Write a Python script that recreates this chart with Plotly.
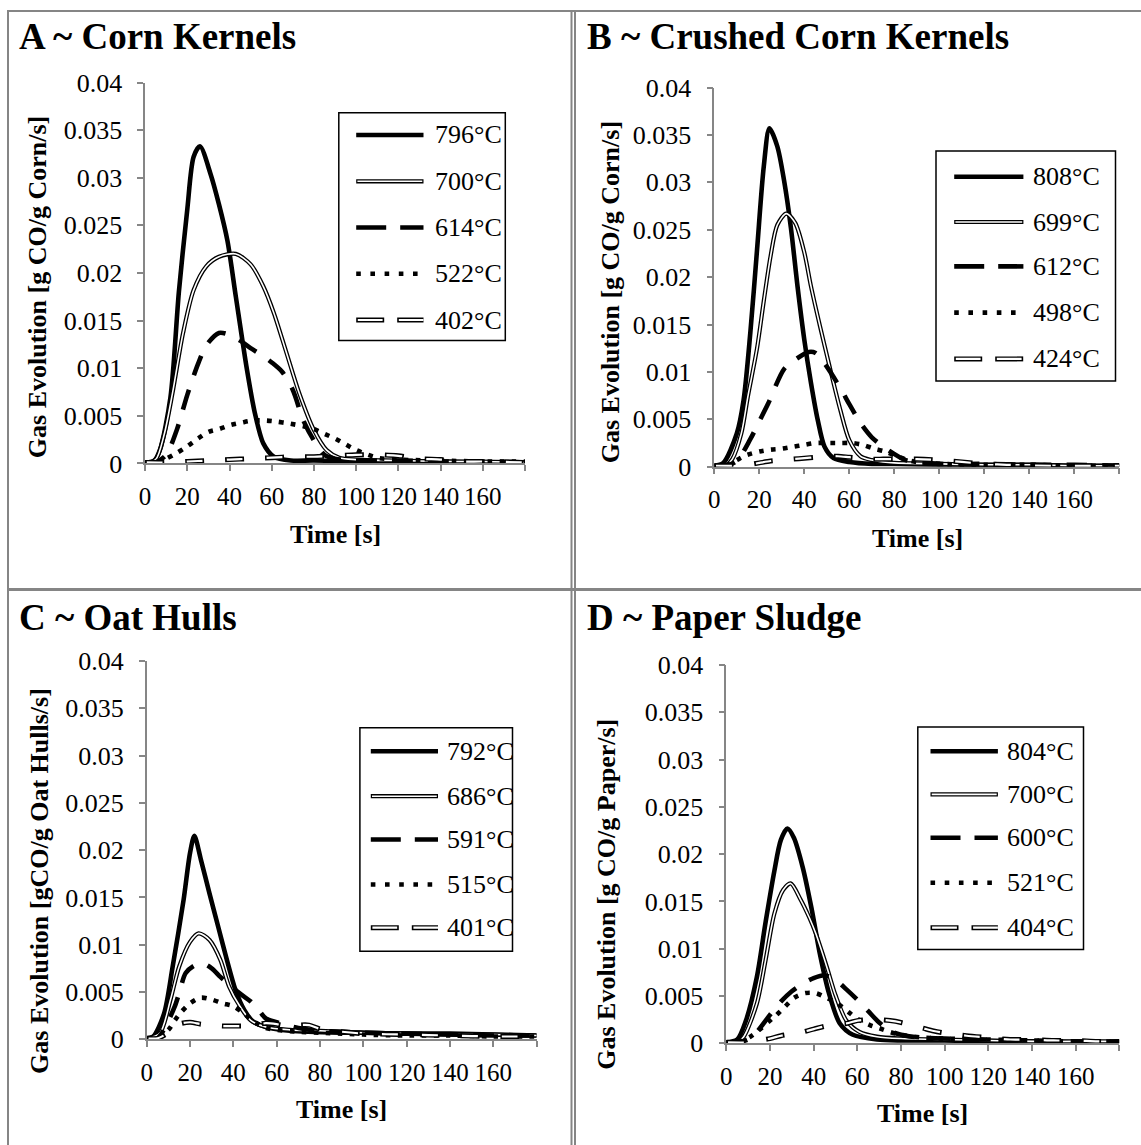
import plotly.graph_objects as go

W, H = 1141, 1145

# ---------------- data ----------------
TITLES = ["A ~ Corn Kernels", "B ~ Crushed Corn Kernels", "C ~ Oat Hulls", "D ~ Paper Sludge"]
Y_TITLES = ["Gas Evolution [g CO/g Corn/s]", "Gas Evolution [g CO/g Corn/s]",
            "Gas Evolution [gCO/g Oat Hulls/s]", "Gas Evolution [g CO/g Paper/s]"]
X_TITLE = "Time [s]"

A_LABELS = ["796°C", "700°C", "614°C", "522°C", "402°C"]
B_LABELS = ["808°C", "699°C", "612°C", "498°C", "424°C"]
C_LABELS = ["792°C", "686°C", "591°C", "515°C", "401°C"]
D_LABELS = ["804°C", "700°C", "600°C", "521°C", "404°C"]

X_TICKS = [0, 20, 40, 60, 80, 100, 120, 140, 160, 180]
X_TICKTEXT = ["0", "20", "40", "60", "80", "100", "120", "140", "160", ""]
Y_TICKS = [0, 0.005, 0.01, 0.015, 0.02, 0.025, 0.03, 0.035, 0.04]
Y_TICKTEXT = ["0", "0.005", "0.01", "0.015", "0.02", "0.025", "0.03", "0.035", "0.04"]

# Panel A - Corn Kernels
A_796_T = [0, 4, 7, 12, 16, 20, 23, 26, 31, 35, 39, 43, 48, 52, 56, 61, 69, 80, 100, 120, 140, 160, 180]
A_796_V = [0.0001, 0.0002, 0.0014, 0.0069, 0.018, 0.0267, 0.0322, 0.0333, 0.0304, 0.0272, 0.0234, 0.0175,
           0.0102, 0.0053, 0.0021, 0.0007, 0.0003, 0.0003, 0.0002, 0.0002, 0.0002, 0.0001, 0.0001]
A_700_T = [0, 5, 9, 13, 18, 23, 29, 35, 43, 50, 56, 61, 67, 73, 80, 86, 92, 100, 120, 140, 160, 180]
A_700_V = [0.0001, 0.0004, 0.003, 0.0074, 0.0137, 0.0182, 0.0207, 0.0217, 0.022, 0.0209, 0.0186, 0.0158,
           0.0116, 0.0074, 0.0035, 0.0014, 0.0006, 0.0004, 0.0003, 0.0002, 0.0002, 0.0001]
A_614_T = [0, 5, 10, 15, 20, 25, 29, 35, 40, 45, 50, 55, 60, 65, 70, 75, 80, 85, 90, 100, 120, 140, 160, 180]
A_614_V = [0.0001, 0.0001, 0.0009, 0.0035, 0.0072, 0.0104, 0.0124, 0.0137, 0.0135, 0.0129, 0.0121, 0.0114,
           0.0106, 0.0096, 0.0077, 0.0045, 0.0024, 0.0009, 0.0005, 0.0003, 0.0003, 0.0002, 0.0002, 0.0001]
A_522_T = [0, 5, 10, 15, 20, 25, 30, 35, 40, 46, 51, 57, 62, 68, 75, 80, 85, 90, 95, 100, 110, 120, 140, 160, 180]
A_522_V = [0.0001, 0.0001, 0.0005, 0.0011, 0.0018, 0.0026, 0.0033, 0.0036, 0.004, 0.0043, 0.0045, 0.0045,
           0.0044, 0.0042, 0.0039, 0.0036, 0.0031, 0.0026, 0.002, 0.0014, 0.0006, 0.0004, 0.0003, 0.0002, 0.0002]
A_402_T = [0, 10, 20, 30, 40, 50, 60, 70, 80, 90, 100, 110, 120, 130, 140, 150, 160, 180]
A_402_V = [0.0001, 0.0001, 0.0002, 0.0003, 0.0004, 0.0005, 0.0006, 0.0007, 0.0007, 0.0008, 0.0009, 0.0009,
           0.0008, 0.0005, 0.0004, 0.0002, 0.0002, 0.0001]

# Panel B - Crushed Corn Kernels
B_808_T = [0, 4, 10, 13, 16, 19, 22, 24.5, 28, 31, 34, 37, 40, 43, 46, 49, 53, 60, 70, 80, 100, 120, 140, 160, 180]
B_808_V = [0.0001, 0.0004, 0.0035, 0.007, 0.0141, 0.0229, 0.0317, 0.0357, 0.0338, 0.0302, 0.0253, 0.019,
           0.0134, 0.0088, 0.0049, 0.0021, 0.0009, 0.0005, 0.0003, 0.0003, 0.0002, 0.0002, 0.0002, 0.0001, 0.0001]
B_699_T = [0, 5, 8, 12, 15, 19, 22, 25, 28, 32, 36, 40, 43, 47, 51, 56, 60, 65, 70, 75, 80, 100, 120, 140, 160, 180]
B_699_V = [0.0001, 0.0001, 0.0008, 0.0035, 0.0075, 0.0125, 0.0175, 0.0222, 0.0255, 0.0267, 0.0257, 0.0226,
           0.019, 0.0148, 0.0108, 0.006, 0.0028, 0.0011, 0.0007, 0.0005, 0.0004, 0.0003, 0.0002, 0.0002, 0.0001, 0.0001]
B_612_T = [0, 5, 10, 16, 20, 24, 31, 36, 42, 45, 49, 56, 60, 65, 70, 77, 85, 90, 100, 120, 140, 160, 180]
B_612_V = [0.0001, 0.0001, 0.0006, 0.0029, 0.0048, 0.0067, 0.0103, 0.0113, 0.0121, 0.012, 0.0109, 0.0083,
           0.0066, 0.0046, 0.0031, 0.0018, 0.0007, 0.0005, 0.0003, 0.0003, 0.0002, 0.0002, 0.0001]
B_498_T = [0, 5, 10, 14, 20, 25, 30, 35, 40, 45, 51, 56, 61, 66, 71, 76, 81, 86, 90, 100, 120, 140, 160, 180]
B_498_V = [0.0001, 0.0001, 0.0007, 0.0012, 0.0016, 0.0018, 0.0019, 0.0021, 0.0023, 0.0025, 0.0025, 0.0025,
           0.0025, 0.0023, 0.0019, 0.0016, 0.0011, 0.0007, 0.0005, 0.0003, 0.0002, 0.0002, 0.0001, 0.0001]
B_424_T = [0, 10, 15, 20, 25, 30, 35, 40, 45, 50, 55, 60, 65, 70, 75, 80, 90, 100, 110, 120, 130, 150, 180]
B_424_V = [0.0001, 0.0001, 0.0002, 0.0004, 0.0006, 0.0007, 0.0008, 0.0009, 0.001, 0.0011, 0.0011, 0.001,
           0.0009, 0.0008, 0.0008, 0.0008, 0.0008, 0.0007, 0.0005, 0.0003, 0.0002, 0.0001, 0.0001]

# Panel C - Oat Hulls
C_792_T = [0, 3, 8, 12, 17, 20, 22, 25, 29, 33, 37, 41, 45, 49, 55, 66, 89, 100, 120, 140, 160, 180]
C_792_V = [0.0001, 0.0003, 0.0027, 0.0077, 0.0147, 0.0197, 0.0215, 0.019, 0.0154, 0.0119, 0.0084, 0.0052,
           0.0031, 0.0019, 0.0013, 0.0009, 0.0007, 0.0007, 0.0006, 0.0006, 0.0005, 0.0004]
C_686_T = [0, 6, 11, 15, 20, 24, 29, 34, 38, 43, 48, 55, 66, 80, 100, 120, 140, 160, 180]
C_686_V = [0.0001, 0.0006, 0.0042, 0.0077, 0.0103, 0.0112, 0.0105, 0.0084, 0.0056, 0.0035, 0.002, 0.0013,
           0.001, 0.0009, 0.0007, 0.0006, 0.0005, 0.0005, 0.0004]
C_591_T = [0, 5, 9, 13, 15, 18, 22, 26, 30, 34, 37, 41, 45, 48, 52, 55, 60, 70, 80, 90, 100, 120, 140, 160, 180]
C_591_V = [0.0001, 0.0001, 0.0015, 0.0035, 0.0049, 0.007, 0.0078, 0.008, 0.0075, 0.0066, 0.006, 0.0052,
           0.0045, 0.004, 0.003, 0.0022, 0.0018, 0.0012, 0.0009, 0.0008, 0.0007, 0.0006, 0.0005, 0.0004, 0.0004]
C_515_T = [0, 5, 10, 13, 16, 20, 25, 30, 35, 40, 45, 50, 55, 60, 70, 80, 90, 100, 120, 140, 160, 180]
C_515_V = [0.0001, 0.0002, 0.001, 0.002, 0.0029, 0.0038, 0.0044, 0.0042, 0.0038, 0.0035, 0.0027, 0.0018,
           0.0012, 0.001, 0.0008, 0.0007, 0.0006, 0.0005, 0.0004, 0.0004, 0.0003, 0.0003]
C_401_T = [0, 5, 10, 15, 20, 25, 30, 35, 40, 45, 50, 55, 60, 65, 70, 75, 80, 90, 100, 120, 140, 160, 180]
C_401_V = [0.0001, 0.0001, 0.0007, 0.0016, 0.0018, 0.0016, 0.0015, 0.0014, 0.0014, 0.0014, 0.0015, 0.0017,
           0.0016, 0.0014, 0.0015, 0.0015, 0.0011, 0.0008, 0.0006, 0.0005, 0.0004, 0.0003, 0.0003]

# Panel D - Paper Sludge
D_804_T = [0, 5, 9, 14, 18, 22, 25, 28, 31, 35, 39, 43, 47, 52, 58, 69, 80, 100, 120, 140, 160, 180]
D_804_V = [0.0001, 0.0004, 0.0024, 0.007, 0.0128, 0.0182, 0.0215, 0.0227, 0.0217, 0.0186, 0.0143, 0.0093,
           0.0053, 0.0021, 0.0009, 0.0004, 0.0003, 0.0003, 0.0002, 0.0002, 0.0001, 0.0001]
D_700_T = [0, 5, 8, 14, 18, 22, 26, 29.5, 34, 38, 41, 46, 50, 55, 61, 69, 80, 100, 120, 140, 160, 180]
D_700_V = [0.0001, 0.0001, 0.0007, 0.0042, 0.0088, 0.0137, 0.0162, 0.0169, 0.0152, 0.0133, 0.0116, 0.0081,
           0.0051, 0.0024, 0.0012, 0.0007, 0.0005, 0.0004, 0.0003, 0.0002, 0.0002, 0.0002]
D_600_T = [0, 5, 10, 14, 20, 25, 30, 35, 40, 45, 50, 55, 60, 65, 70, 76, 82, 90, 100, 120, 140, 160, 180]
D_600_V = [0.0001, 0.0001, 0.0004, 0.0012, 0.003, 0.0044, 0.0055, 0.0063, 0.0069, 0.0072, 0.0067, 0.0057,
           0.0046, 0.0034, 0.0022, 0.0012, 0.0008, 0.0006, 0.0005, 0.0004, 0.0003, 0.0002, 0.0002]
D_521_T = [0, 5, 11, 15, 20, 23, 27, 31, 36, 41, 46, 51, 56, 60, 66, 70, 75, 80, 90, 100, 120, 140, 160, 180]
D_521_V = [0.0001, 0.0001, 0.0007, 0.0014, 0.0024, 0.003, 0.0039, 0.0048, 0.0053, 0.0053, 0.0048, 0.0042,
           0.0033, 0.0026, 0.0019, 0.0016, 0.0012, 0.0009, 0.0006, 0.0005, 0.0004, 0.0003, 0.0002, 0.0002]
D_404_T = [0, 10, 15, 20, 25, 30, 35, 40, 45, 50, 55, 60, 65, 70, 75, 80, 85, 90, 95, 100, 110, 120, 130,
           140, 150, 160, 170, 180]
D_404_V = [0.0001, 0.0001, 0.0003, 0.0005, 0.0008, 0.001, 0.0012, 0.0015, 0.0018, 0.002, 0.0021, 0.0024,
           0.0025, 0.0025, 0.0024, 0.0022, 0.0019, 0.0016, 0.0013, 0.0011, 0.0008, 0.0006, 0.0004, 0.0004,
           0.0003, 0.0003, 0.0002, 0.0002]

PANEL_SERIES = [
    [(A_796_T, A_796_V), (A_700_T, A_700_V), (A_614_T, A_614_V), (A_522_T, A_522_V), (A_402_T, A_402_V)],
    [(B_808_T, B_808_V), (B_699_T, B_699_V), (B_612_T, B_612_V), (B_498_T, B_498_V), (B_424_T, B_424_V)],
    [(C_792_T, C_792_V), (C_686_T, C_686_V), (C_591_T, C_591_V), (C_515_T, C_515_V), (C_401_T, C_401_V)],
    [(D_804_T, D_804_V), (D_700_T, D_700_V), (D_600_T, D_600_V), (D_521_T, D_521_V), (D_404_T, D_404_V)],
]
PANEL_LABELS = [A_LABELS, B_LABELS, C_LABELS, D_LABELS]

# ---------------- layout geometry (pixels) ----------------
GEOM = [
    dict(x0=145.1, x1=525.0, ytop=82.5, ybot=463.4, title=(16.5, 37), ytitle=(38.2, 287), xtitle=(335.0, 534.6),
         box=(338.8, 112.8, 505.3, 340.4), rows=[135, 181.3, 227.5, 273.8, 320], line=(356.2, 423.5), text=432.6),
    dict(x0=714.3, x1=1119.3, ytop=87.6, ybot=466.7, title=(584.6, 37), ytitle=(610.0, 292.3), xtitle=(917.0, 538.3),
         box=(936.0, 151.0, 1115.5, 381.0), rows=[176.8, 222, 266.4, 312.6, 358.9], line=(954.2, 1023.4), text=1030.7),
    dict(x0=146.7, x1=536.7, ytop=660.9, ybot=1039.3, title=(17.4, 617.8), ytitle=(40.0, 880.9), xtitle=(341.7, 1109.7),
         box=(359.9, 727.7, 512.5, 951.2), rows=[751.2, 796.2, 839.5, 884.5, 927.7], line=(370.8, 438.0), text=445.3),
    dict(x0=726.3, x1=1119.3, ytop=664.9, ybot=1043.3, title=(585.3, 617.8), ytitle=(606.4, 894.4), xtitle=(923.0, 1113.3),
         box=(917.8, 727.0, 1083.5, 949.4), rows=[751.2, 794.4, 837.7, 882.7, 927.7], line=(930.5, 997.9), text=1005.2),
]

FONT = "Liberation Serif, Times New Roman, serif"
AX_COLOR = "#868686"
BORDER = "#858585"
STYLES = ["thick", "double", "dash", "dot", "hollow"]


def fx(px):
    return px / W


def fy(py):
    return 1 - py / H


fig = go.Figure()
shapes = []
annotations = []


def line_traces(style, t, v, xa, ya):
    base = dict(x=t, y=v, mode="lines", xaxis=xa, yaxis=ya, showlegend=False, hoverinfo="skip")
    sp = dict(shape="spline", smoothing=0.8)
    out = []
    if style == "thick":
        out.append(go.Scatter(**base, line=dict(color="black", width=4.6, **sp)))
    elif style == "double":
        out.append(go.Scatter(**base, line=dict(color="black", width=4.2, **sp)))
        out.append(go.Scatter(**base, line=dict(color="white", width=1.6, **sp)))
    elif style == "dash":
        out.append(go.Scatter(**base, line=dict(color="black", width=4.6, dash="21px,15px", **sp)))
    elif style == "dot":
        out.append(go.Scatter(**base, line=dict(color="black", width=4.6, dash="4.6px,7.4px", **sp)))
    elif style == "hollow":
        out.append(go.Scatter(**base, line=dict(color="black", width=5.0, dash="19px,21px", **sp)))
        out.append(go.Scatter(**base, line=dict(color="white", width=2.2, dash="0px,1.6px,15.8px,22.6px", **sp)))
    return out


def legend_sample(style, x0, x1, y):
    common = dict(type="line", xref="paper", yref="paper", x0=fx(x0), x1=fx(x1), y0=fy(y), y1=fy(y), layer="above")
    out = []
    if style == "thick":
        out.append(dict(**common, line=dict(color="black", width=4.6)))
    elif style == "double":
        out.append(dict(**common, line=dict(color="black", width=4.2)))
        out.append(dict(type="line", xref="paper", yref="paper", x0=fx(x0 + 1.2), x1=fx(x1 - 1.2),
                        y0=fy(y), y1=fy(y), layer="above", line=dict(color="white", width=1.6)))
    elif style == "dash":
        out.append(dict(**common, line=dict(color="black", width=4.6, dash="30px,14px")))
    elif style == "dot":
        out.append(dict(**common, line=dict(color="black", width=4.6, dash="4.6px,9.6px")))
    elif style == "hollow":
        out.append(dict(**common, line=dict(color="black", width=5.0, dash="28px,13px")))
        out.append(dict(**common, line=dict(color="white", width=2.2, dash="0px,1.6px,24.8px,14.6px")))
    return out


layout_axes = {}
for i, (series, labels, g) in enumerate(zip(PANEL_SERIES, PANEL_LABELS, GEOM), start=1):
    xa = "x" if i == 1 else f"x{i}"
    ya = "y" if i == 1 else f"y{i}"
    xkey = "xaxis" if i == 1 else f"xaxis{i}"
    ykey = "yaxis" if i == 1 else f"yaxis{i}"
    layout_axes[xkey] = dict(
        domain=[fx(g["x0"]), fx(g["x1"])], range=[0, 180], anchor=ya, automargin=False,
        showline=True, linecolor=AX_COLOR, linewidth=1.5, mirror=False,
        ticks="outside", ticklen=6, tickwidth=1.5, tickcolor=AX_COLOR,
        tickvals=X_TICKS, ticktext=X_TICKTEXT, tickfont=dict(family=FONT, size=25, color="black"),
        ticklabelstandoff=4,
        showgrid=False, zeroline=False, fixedrange=True,
    )
    layout_axes[ykey] = dict(
        domain=[fy(g["ybot"]), fy(g["ytop"])], range=[0, 0.04], anchor=xa, automargin=False,
        showline=True, linecolor=AX_COLOR, linewidth=1.5,
        ticks="outside", ticklen=6, tickwidth=1.5, tickcolor=AX_COLOR,
        tickvals=Y_TICKS, ticktext=Y_TICKTEXT, tickfont=dict(family=FONT, size=26, color="black"),
        ticklabelstandoff=10,
        showgrid=False, zeroline=False, fixedrange=True,
    )
    for style, (t, v) in zip(STYLES, series):
        for tr in line_traces(style, t, v, xa, ya):
            fig.add_trace(tr)

    # panel title
    annotations.append(dict(text=f"<b>{TITLES[i-1]}</b>", xref="paper", yref="paper",
                            x=fx(g["title"][0]), y=fy(g["title"][1]), xanchor="left", yanchor="middle",
                            showarrow=False, font=dict(family=FONT, size=37, color="black")))
    # axis titles
    annotations.append(dict(text=f"<b>{Y_TITLES[i-1]}</b>", xref="paper", yref="paper",
                            x=fx(g["ytitle"][0]), y=fy(g["ytitle"][1]), xanchor="center", yanchor="middle",
                            textangle=-90, showarrow=False, font=dict(family=FONT, size=26, color="black")))
    annotations.append(dict(text=f"<b>{X_TITLE}</b>", xref="paper", yref="paper",
                            x=fx(g["xtitle"][0]), y=fy(g["xtitle"][1]), xanchor="center", yanchor="middle",
                            showarrow=False, font=dict(family=FONT, size=26, color="black")))
    # legend
    bx0, by0, bx1, by1 = g["box"]
    shapes.append(dict(type="rect", xref="paper", yref="paper", x0=fx(bx0), x1=fx(bx1), y0=fy(by1), y1=fy(by0),
                       line=dict(color="black", width=1.5), fillcolor="white", layer="above"))
    for style, lab, ry in zip(STYLES, labels, g["rows"]):
        shapes.extend(legend_sample(style, g["line"][0], g["line"][1], ry))
        annotations.append(dict(text=lab, xref="paper", yref="paper", x=fx(g["text"]), y=fy(ry),
                                xanchor="left", yanchor="middle", showarrow=False,
                                font=dict(family=FONT, size=26, color="black")))

# outer frame / table lines
frame = [
    (7.5, 11, W, 11, 2),          # top
    (8, 10, 8, H, 2),             # left
    (571.5, 10, 571.5, H, 2),     # divider (double)
    (575, 10, 575, H, 2),
    (8, 589.5, W, 589.5, 3),      # horizontal divider
]
for x0, y0, x1, y1, w in frame:
    shapes.append(dict(type="line", xref="paper", yref="paper", x0=fx(x0), x1=fx(x1), y0=fy(y0), y1=fy(y1),
                       line=dict(color=BORDER, width=w), layer="above"))

fig.update_layout(
    template="none",
    width=W, height=H, autosize=False,
    margin=dict(l=0, r=0, t=0, b=0, pad=0, autoexpand=False),
    paper_bgcolor="white", plot_bgcolor="white",
    shapes=shapes, annotations=annotations, showlegend=False,
    **layout_axes,
)

fig.write_html("out.html", config={"displayModeBar": False, "responsive": False},
               post_script="document.body.style.margin='0px';")
